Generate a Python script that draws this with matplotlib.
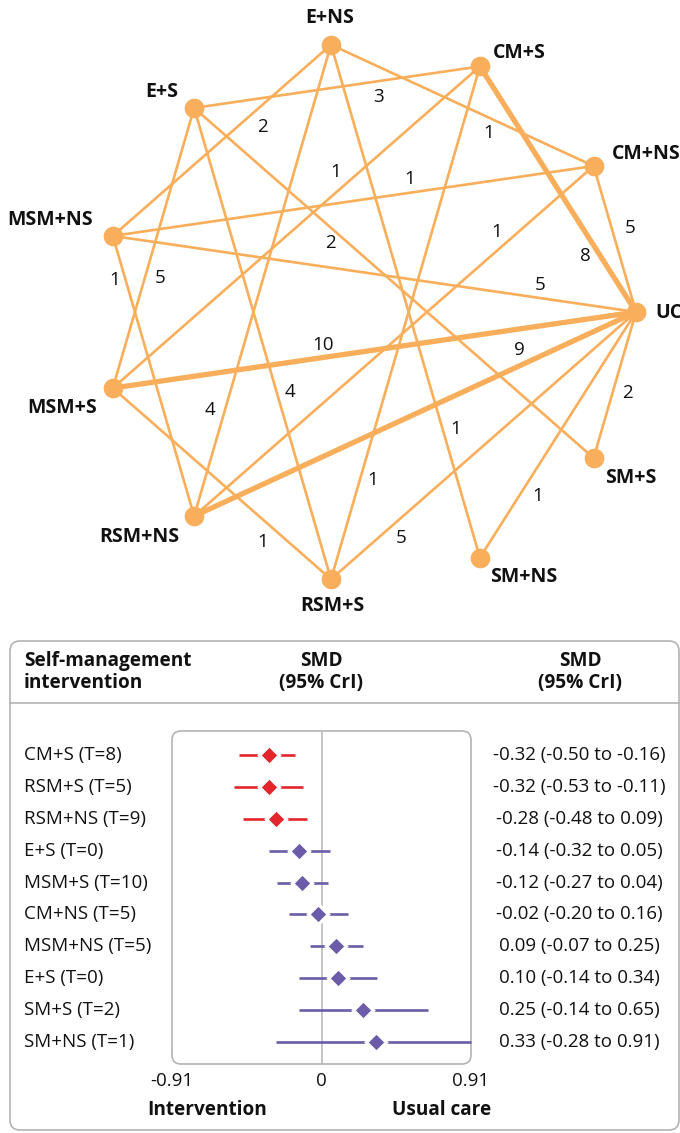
import numpy as np
import matplotlib
matplotlib.use("Agg")
import matplotlib.pyplot as plt
from matplotlib.patches import FancyBboxPatch

plt.rcParams['font.family'] = ['Open Sans', 'DejaVu Sans']

# ---------------- data ----------------
nodes = ["UC", "CM+NS", "CM+S", "E+NS", "E+S", "MSM+NS",
         "MSM+S", "RSM+NS", "RSM+S", "SM+NS", "SM+S"]

edge_a = ["UC", "UC", "UC", "UC", "UC", "UC", "UC", "UC",
          "CM+S", "CM+S", "CM+S", "CM+NS", "CM+NS", "CM+NS",
          "E+NS", "E+NS", "E+NS", "MSM+NS", "MSM+S", "MSM+S", "E+S", "E+S"]
edge_b = ["CM+NS", "CM+S", "MSM+NS", "MSM+S", "RSM+NS", "SM+S", "SM+NS", "RSM+S",
          "E+S", "MSM+S", "RSM+S", "E+NS", "MSM+NS", "RSM+NS",
          "MSM+NS", "RSM+NS", "SM+NS", "RSM+NS", "E+S", "RSM+S", "SM+S", "RSM+S"]
edge_n = [5, 8, 5, 10, 9, 2, 1, 5,
          3, 1, 1, 1, 1, 1,
          2, 4, 1, 1, 5, 1, 2, 4]

row_labels = ["CM+S (T=8)", "RSM+S (T=5)", "RSM+NS (T=9)", "E+S (T=0)", "MSM+S (T=10)",
              "CM+NS (T=5)", "MSM+NS (T=5)", "E+S (T=0)", "SM+S (T=2)", "SM+NS (T=1)"]
smd = [-0.32, -0.32, -0.28, -0.14, -0.12, -0.02, 0.09, 0.10, 0.25, 0.33]
ci_low = [-0.50, -0.53, -0.48, -0.32, -0.27, -0.20, -0.07, -0.14, -0.14, -0.28]
ci_high = [-0.16, -0.11, -0.09, 0.05, 0.04, 0.16, 0.25, 0.34, 0.65, 0.91]
ci_text = ["-0.32 (-0.50 to -0.16)", "-0.32 (-0.53 to -0.11)", "-0.28 (-0.48 to 0.09)",
           "-0.14 (-0.32 to 0.05)", "-0.12 (-0.27 to 0.04)", "-0.02 (-0.20 to 0.16)",
           "0.09 (-0.07 to 0.25)", "0.10 (-0.14 to 0.34)", "0.25 (-0.14 to 0.65)",
           "0.33 (-0.28 to 0.91)"]
x_ticks = [-0.91, 0, 0.91]
x_tick_labels = ["-0.91", "0", "0.91"]

# ---------------- styles / layout ----------------
ORANGE = '#F8AE5A'
RED = '#E3262B'
PURPLE = '#6B5BA8'
GREY = '#B4B4B4'
INK = '#111111'

fig = plt.figure(figsize=(6.8, 11.33), dpi=100)
ax = fig.add_axes([0, 0, 1, 1])
ax.set_xlim(0, 680)
ax.set_ylim(1133, 0)
ax.axis('off')

# circular layout
cx, cy, rx, ry = 369, 312, 267, 270
ang = np.deg2rad(np.arange(len(nodes)) * 360 / len(nodes))
pos = {n: (cx + rx * np.cos(a), cy - ry * np.sin(a)) for n, a in zip(nodes, ang)}

for a, b, n in zip(edge_a, edge_b, edge_n):
    (x1, y1), (x2, y2) = pos[a], pos[b]
    lw = 3.8 if n >= 8 else 1.9
    ax.plot([x1, x2], [y1, y2], color=ORANGE, lw=lw, solid_capstyle='butt', zorder=2)

ax.scatter([pos[n][0] for n in nodes], [pos[n][1] for n in nodes],
           s=200, color=ORANGE, zorder=3, linewidths=0)

# edge label positions (layout)
edge_label_xy = [(630, 228), (585, 256), (540, 285), (323, 345), (519, 350), (627, 393),
                 (538, 496), (401, 538), (378, 97), (336, 172), (373, 480), (489, 133),
                 (410, 179), (497, 232), (262, 127), (210, 410), (456, 429), (115, 280),
                 (160, 278), (263, 542), (330, 243), (290, 392)]
for (lx, ly), n in zip(edge_label_xy, edge_n):
    ax.text(lx, ly, str(n), ha='center', va='center', fontsize=13.5, color=INK, zorder=4)

# node label positions (layout)
node_label_xy = {"UC": (655, 313, 'left'), "CM+NS": (612, 154, 'left'), "CM+S": (493, 53, 'left'),
                 "E+NS": (330, 18, 'center'), "E+S": (178, 92, 'right'), "MSM+NS": (93, 220, 'right'),
                 "MSM+S": (97, 408, 'right'), "RSM+NS": (179, 537, 'right'), "RSM+S": (332, 606, 'center'),
                 "SM+NS": (490, 577, 'left'), "SM+S": (605, 478, 'left')}
for n, (lx, ly, ha) in node_label_xy.items():
    ax.text(lx, ly, n, ha=ha, va='center', fontsize=14, fontweight='bold', color=INK, zorder=4)

# ---------------- forest panel ----------------
outer = FancyBboxPatch((10, 641), 669, 489, boxstyle="round,pad=0,rounding_size=10",
                       fc='none', ec=GREY, lw=1.2, zorder=1)
ax.add_patch(outer)
ax.plot([10, 679], [703, 703], color=GREY, lw=1.2, zorder=1)
inner = FancyBboxPatch((172, 731), 299, 333, boxstyle="round,pad=0,rounding_size=9",
                       fc='none', ec=GREY, lw=1.2, zorder=1)
ax.add_patch(inner)

hdr = dict(fontsize=13.7, fontweight='bold', color=INK, va='center')
ax.text(24, 661, "Self-management", ha='left', **hdr)
ax.text(24, 683, "intervention", ha='left', **hdr)
ax.text(321, 661, "SMD", ha='center', **hdr)
ax.text(321, 683, "(95% CrI)", ha='center', **hdr)
ax.text(580, 661, "SMD", ha='center', **hdr)
ax.text(580, 683, "(95% CrI)", ha='center', **hdr)

fa = fig.add_axes([172 / 680, 1 - 1064 / 1133, 299 / 680, 333 / 1133])
fa.patch.set_alpha(0)
fa.set_xlim(-0.91, 0.91)
nrow = len(row_labels)
fa.set_ylim(nrow - 1 + 22 / 31.9, -24 / 31.9)
fa.axis('off')
fa.axvline(0, color=GREY, lw=1.1, zorder=1)
for i, (m, lo, hi) in enumerate(zip(smd, ci_low, ci_high)):
    c = RED if hi < 0 else PURPLE
    fa.plot([lo, hi], [i, i], color=c, lw=1.9, solid_capstyle='butt', zorder=2, clip_on=False)
    fa.plot([m], [i], marker='D', ms=10.5, mfc=c, mec='white', mew=2.4, zorder=3, clip_on=False)

# row labels and CI text, aligned with forest rows
to_fig = lambda yv: ax.transData.inverted().transform(fa.transData.transform((0, yv)))[1]
for i, (lab, txt) in enumerate(zip(row_labels, ci_text)):
    yp = to_fig(i)
    ax.text(24, yp, lab, ha='left', va='center', fontsize=13.5, color=INK)
    ax.text(579, yp, txt, ha='center', va='center', fontsize=13.5, color=INK)

for t, tl in zip(x_ticks, x_tick_labels):
    xp = ax.transData.inverted().transform(fa.transData.transform((t, 0)))[0]
    ax.text(xp, 1081, tl, ha='center', va='center', fontsize=13.5, color=INK)

ax.text(207, 1110, "Intervention", ha='center', va='center', fontsize=13.7, fontweight='bold', color=INK)
ax.text(442, 1110, "Usual care", ha='center', va='center', fontsize=13.7, fontweight='bold', color=INK)

fig.savefig("out.png", dpi=100)
